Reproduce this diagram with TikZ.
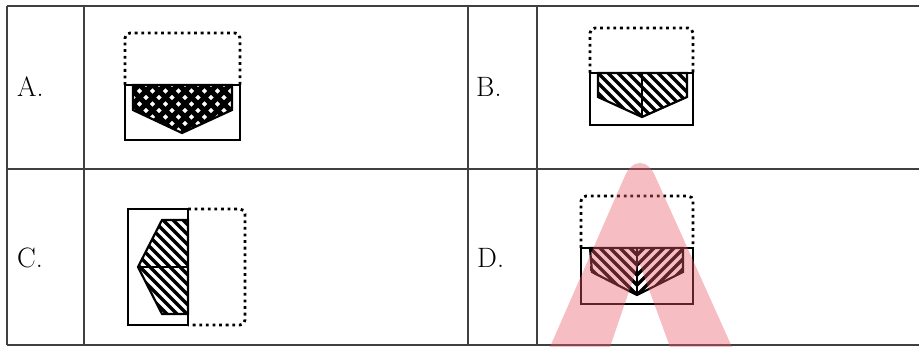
\documentclass[tikz,border=0pt]{standalone}
\usepackage{tikz}
\definecolor{wmpink}{RGB}{232,90,104}

\begin{document}
\begin{tikzpicture}[x=1pt, y=-1pt, line join=miter,
    rule/.style={line width=1.3pt, black!75},
    outline/.style={line width=2.2pt},
    dotbox/.style={line width=2.8pt, dash pattern=on 2.8pt off 3.8pt, rounded corners=5pt},
    hatch/.style={line width=3.2pt},
    xhatch/.style={line width=5pt},
    optlabel/.style={font=\fontsize{28}{30}\selectfont, anchor=base west, inner sep=0pt},
    wmark/.style={fill=wmpink, opacity=0.4}]
\useasboundingbox (0,0) rectangle (919,347);
% Table rows
    \draw[rule] (7,6) -- (919,6);
    \draw[rule] (7,169) -- (919,169);
    \draw[rule] (7,345) -- (919,345);
% Table columns
    \draw[rule] (7,6) -- (7,345);
    \draw[rule] (84,6) -- (84,345);
    \draw[rule] (468,6) -- (468,345);
    \draw[rule] (537,6) -- (537,345);
% Option letters
    \node[optlabel] (optA) at (17,97) {A.};
    \node[optlabel] (optB) at (476,97) {B.};
    \node[optlabel] (optC) at (17,268) {C.};
    \node[optlabel] (optD) at (477,268) {D.};
% A: cross hatching
    \begin{scope}
    \clip (133,85) -- (133,110) -- (182,133) -- (232,110) -- (232,85) -- cycle;
    \draw[xhatch] (96,80) -- (156,140);
    \draw[xhatch] (109,80) -- (169,140);
    \draw[xhatch] (122,80) -- (182,140);
    \draw[xhatch] (135,80) -- (195,140);
    \draw[xhatch] (148,80) -- (208,140);
    \draw[xhatch] (161,80) -- (221,140);
    \draw[xhatch] (174,80) -- (234,140);
    \draw[xhatch] (187,80) -- (247,140);
    \draw[xhatch] (200,80) -- (260,140);
    \draw[xhatch] (213,80) -- (273,140);
    \draw[xhatch] (226,80) -- (286,140);
    \draw[xhatch] (84,140) -- (144,80);
    \draw[xhatch] (97,140) -- (157,80);
    \draw[xhatch] (110,140) -- (170,80);
    \draw[xhatch] (123,140) -- (183,80);
    \draw[xhatch] (136,140) -- (196,80);
    \draw[xhatch] (149,140) -- (209,80);
    \draw[xhatch] (162,140) -- (222,80);
    \draw[xhatch] (175,140) -- (235,80);
    \draw[xhatch] (188,140) -- (248,80);
    \draw[xhatch] (201,140) -- (261,80);
    \end{scope}
% A: outlines
    \draw[dotbox] (125,85) -- (125,33) -- (240,33) -- (240,85);
    \draw[outline] (125,85) rectangle (240,140);
    \draw[outline] (133,85) -- (133,110) -- (182,133) -- (232,110) -- (232,85) -- cycle;
% B: hatching
    \begin{scope}
    \clip (598,73) -- (598,97) -- (642,117) -- (687,97) -- (687,73) -- cycle;
    \draw[hatch] (575,70) -- (625,120);
    \draw[hatch] (585,70) -- (635,120);
    \draw[hatch] (595,70) -- (645,120);
    \draw[hatch] (605,70) -- (655,120);
    \draw[hatch] (615,70) -- (665,120);
    \draw[hatch] (625,70) -- (675,120);
    \draw[hatch] (635,70) -- (685,120);
    \draw[hatch] (645,70) -- (695,120);
    \draw[hatch] (655,70) -- (705,120);
    \draw[hatch] (665,70) -- (715,120);
    \draw[hatch] (675,70) -- (725,120);
    \end{scope}
% B: outlines
    \draw[dotbox] (590,73) -- (590,28) -- (693,28) -- (693,73);
    \draw[outline] (590,73) rectangle (693,125);
    \draw[outline] (598,73) -- (598,97) -- (642,117) -- (687,97) -- (687,73) -- cycle;
    \draw[outline] (642,73) -- (642,117);
% C: hatching
    \begin{scope}
    \clip (188,220) -- (162,220) -- (138,267) -- (162,314) -- (188,314) -- cycle;
    \draw[hatch] (63,210) -- (173,320);
    \draw[hatch] (73,210) -- (183,320);
    \draw[hatch] (83,210) -- (193,320);
    \draw[hatch] (93,210) -- (203,320);
    \draw[hatch] (103,210) -- (213,320);
    \draw[hatch] (113,210) -- (223,320);
    \draw[hatch] (123,210) -- (233,320);
    \draw[hatch] (133,210) -- (243,320);
    \draw[hatch] (143,210) -- (253,320);
    \draw[hatch] (153,210) -- (263,320);
    \draw[hatch] (163,210) -- (273,320);
    \draw[hatch] (173,210) -- (283,320);
    \end{scope}
% C: outlines
    \draw[dotbox] (188,209) -- (245,209) -- (245,325) -- (188,325);
    \draw[outline] (128,209) rectangle (188,325);
    \draw[outline] (188,220) -- (162,220) -- (138,267) -- (162,314) -- (188,314) -- cycle;
    \draw[outline] (138,267) -- (188,267);
% D: hatching, left half
    \begin{scope}
    \clip (590,248) -- (590,272) -- (637,295) -- (637,248) -- cycle;
    \draw[hatch] (567,245) -- (622,300);
    \draw[hatch] (577,245) -- (632,300);
    \draw[hatch] (587,245) -- (642,300);
    \draw[hatch] (597,245) -- (652,300);
    \draw[hatch] (607,245) -- (662,300);
    \draw[hatch] (617,245) -- (672,300);
    \draw[hatch] (627,245) -- (682,300);
    \end{scope}
% D: hatching, right half
    \begin{scope}
    \clip (637,248) -- (637,295) -- (683,272) -- (683,248) -- cycle;
    \draw[hatch] (652,300) -- (707,245);
    \draw[hatch] (642,300) -- (697,245);
    \draw[hatch] (632,300) -- (687,245);
    \draw[hatch] (622,300) -- (677,245);
    \draw[hatch] (612,300) -- (667,245);
    \draw[hatch] (602,300) -- (657,245);
    \draw[hatch] (592,300) -- (647,245);
    \end{scope}
% D: outlines
    \draw[dotbox] (581,248) -- (581,196) -- (693,196) -- (693,248);
    \draw[outline] (581,248) rectangle (693,304);
    \draw[outline] (590,248) -- (592,272) -- (637,295) -- (683,272) -- (683,248) -- cycle;
    \draw[outline] (637,248) -- (637,295);
% Watermark
    \fill[wmark] (550,347) -- (624,178) .. controls (632,158) and (648,158) .. (656,178)
        -- (732,347) -- (670,347) -- (639,262) -- (610,347) -- cycle;
\end{tikzpicture}
\end{document}
